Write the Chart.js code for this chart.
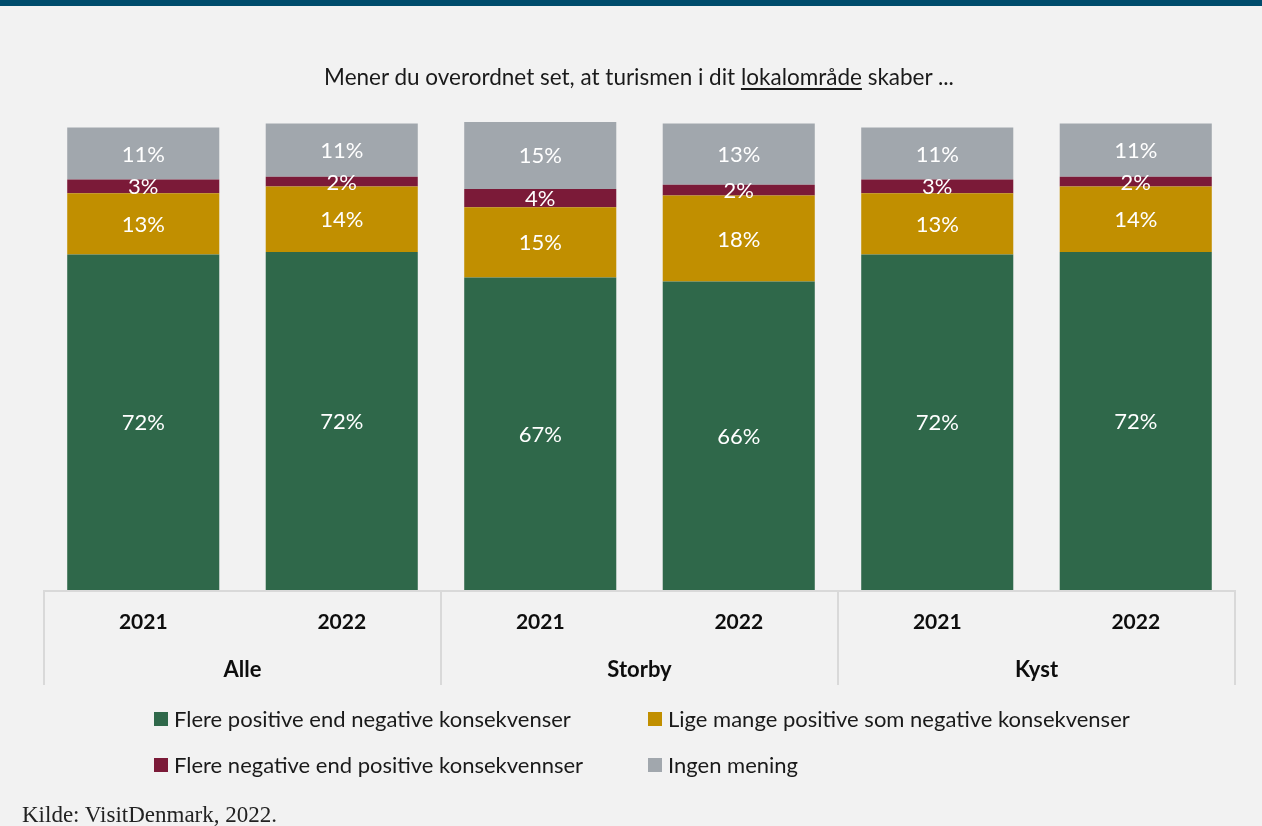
<!DOCTYPE html>
<html>
<head>
<meta charset="utf-8">
<script src="https://cdn.jsdelivr.net/npm/chart.js@4"></script>
<style>
  html, body { margin:0; padding:0; }
  body { width:1262px; height:826px; background:#f2f2f2; position:relative; overflow:hidden; font-family: Lato, "Open Sans", sans-serif; }
  #band { position:absolute; left:0; top:0; width:1262px; height:6px; background:#004c6c; }
  #title { position:absolute; left:0; width:1262px; top:63px; text-align:center; font-size:22.5px; color:#1a1a1a; padding-left:16px; box-sizing:border-box; }
  #title u { text-underline-offset:3px; }
  #wrap { position:absolute; left:0; top:0; width:1262px; height:826px; }
  .leg { position:absolute; font-size:22px; color:#1a1a1a; display:flex; align-items:center; white-space:nowrap; }
  .leg i { display:inline-block; width:14px; height:14px; margin-right:6px; }
  #src { position:absolute; left:22px; top:802px; font-family:"Liberation Serif", "DejaVu Serif", serif; font-size:23px; color:#222; }
</style>
</head>
<body>
<div id="band"></div>
<div id="wrap"><canvas id="c" width="1262" height="826"></canvas></div>
<div id="title">Mener du overordnet set, at turismen i dit <u>lokalområde</u> skaber ...</div>
<div id="legend"></div>
<div id="src">Kilde: VisitDenmark, 2022.</div>
<script>
// ---- data ----
const years = ['2021', '2022', '2021', '2022', '2021', '2022'];
const groups = ['Alle', 'Storby', 'Kyst'];
const seriesNames = [
  'Flere positive end negative konsekvenser',
  'Lige mange positive som negative konsekvenser',
  'Flere negative end positive konsekvennser',
  'Ingen mening'
];
const flerePositive = [71.7, 72.2, 66.8, 65.9, 71.7, 72.2];
const ligeMange     = [13.1, 14.0, 15.0, 18.4, 13.1, 14.0];
const flereNegative = [2.9, 2.1, 3.9, 2.3, 2.9, 2.1];
const ingenMening   = [11.1, 11.4, 14.5, 13.1, 11.1, 11.4];
const colors = ['#2f684a', '#c18f00', '#7b1a38', '#a1a7ad'];

// ---- legend (HTML) ----
const legendPos = [[154, 719], [648, 719], [154, 765], [648, 765]];
const legEl = document.getElementById('legend');
seriesNames.forEach((n, i) => {
  const d = document.createElement('div');
  d.className = 'leg';
  d.style.left = legendPos[i][0] + 'px';
  d.style.top = (legendPos[i][1] - 14) + 'px';
  d.innerHTML = '<i style="background:' + colors[i] + '"></i>' + n;
  legEl.appendChild(d);
});

// ---- plugins ----
const valueLabels = {
  id: 'valueLabels',
  afterDatasetsDraw(chart) {
    const ctx = chart.ctx;
    ctx.save();
    ctx.fillStyle = '#ffffff';
    ctx.font = '22px Lato, "Open Sans", sans-serif';
    ctx.textAlign = 'center';
    ctx.textBaseline = 'middle';
    chart.data.datasets.forEach((ds, di) => {
      const meta = chart.getDatasetMeta(di);
      meta.data.forEach((el, i) => {
        const p = el.getProps(['x', 'y', 'base'], true);
        ctx.fillText(Math.round(ds.data[i]) + '%', p.x, (p.y + p.base) / 2 + 1);
      });
    });
    ctx.restore();
  }
};

const groupAxis = {
  id: 'groupAxis',
  afterDraw(chart) {
    const ctx = chart.ctx;
    const xs = chart.scales.x;
    const area = chart.chartArea;
    const half = (xs.getPixelForValue(1) - xs.getPixelForValue(0)) / 2;
    ctx.save();
    ctx.strokeStyle = '#d9d9d9';
    ctx.lineWidth = 2;
    ctx.beginPath();
    ctx.moveTo(area.left, area.bottom + 1);
    ctx.lineTo(area.right, area.bottom + 1);
    for (let g = 0; g <= groups.length; g++) {
      const x = g < groups.length ? xs.getPixelForValue(g * 2) - half : xs.getPixelForValue(groups.length * 2 - 1) + half;
      ctx.moveTo(x, area.bottom);
      ctx.lineTo(x, area.bottom + 95);
    }
    ctx.stroke();
    ctx.fillStyle = '#0d0d0d';
    ctx.font = 'bold 22px Lato, "Open Sans", sans-serif';
    ctx.textAlign = 'center';
    ctx.textBaseline = 'middle';
    groups.forEach((g, i) => {
      const x = (xs.getPixelForValue(i * 2) + xs.getPixelForValue(i * 2 + 1)) / 2;
      ctx.fillText(g, x, area.bottom + 80);
    });
    ctx.restore();
  }
};

new Chart(document.getElementById('c'), {
  type: 'bar',
  data: {
    labels: years,
    datasets: [
      { label: seriesNames[0], data: flerePositive, backgroundColor: colors[0] },
      { label: seriesNames[1], data: ligeMange, backgroundColor: colors[1] },
      { label: seriesNames[2], data: flereNegative, backgroundColor: colors[2] },
      { label: seriesNames[3], data: ingenMening, backgroundColor: colors[3] }
    ]
  },
  options: {
    responsive: false,
    animation: false,
    layout: { padding: { left: 44, right: 27, top: 122, bottom: 140 } },
    datasets: { bar: { barPercentage: 1, categoryPercentage: 0.766, borderWidth: 0 } },
    plugins: { legend: { display: false }, tooltip: { enabled: false }, title: { display: false } },
    scales: {
      x: {
        stacked: true,
        grid: { display: false, drawTicks: false },
        border: { display: false },
        ticks: { color: '#0d0d0d', font: { family: 'Lato, "Open Sans", sans-serif', size: 21, weight: 'bold' }, padding: 20, maxRotation: 0 },
        afterFit(scale) { scale.height = 96; }
      },
      y: {
        stacked: true, min: 0, max: 100, display: false
      }
    }
  },
  plugins: [valueLabels, groupAxis]
});
</script>
</body>
</html>
